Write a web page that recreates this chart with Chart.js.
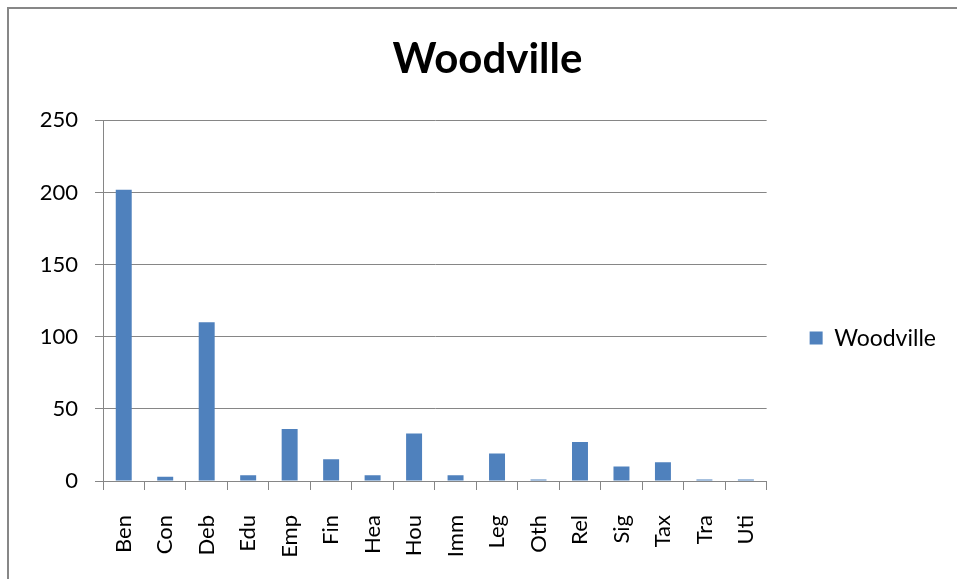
<!DOCTYPE html>
<html>
<head>
<meta charset="utf-8">
<script src="https://cdn.jsdelivr.net/npm/chart.js@4.4.1/dist/chart.umd.min.js"></script>
<style>
  html, body { margin: 0; padding: 0; background: #ffffff; }
  #wrap { position: relative; width: 957px; height: 579px; overflow: hidden; }
  #frame { position: absolute; left: 7px; top: 7px; width: 1000px; height: 700px;
           border-left: 2px solid #878787; border-top: 2px solid #878787; }
  canvas { position: absolute; left: 0; top: 0; }
</style>
</head>
<body>
<div id="wrap">
  <div id="frame"></div>
  <canvas id="c" width="957" height="579"></canvas>
</div>
<script>
const categories = ["Ben","Con","Deb","Edu","Emp","Fin","Hea","Hou","Imm","Leg","Oth","Rel","Sig","Tax","Tra","Uti"];
const seriesName = "Woodville";
const woodvilleValues = [202,3,110,4,36,15,4,33,4,19,1,27,10,13,1,1];
const titleText = "Woodville";
const yMin = 0, yMax = 250, yStep = 50;

const FONT = "Lato, 'Open Sans', sans-serif";

new Chart(document.getElementById('c'), {
  type: 'bar',
  data: {
    labels: categories,
    datasets: [{
      label: seriesName,
      data: woodvilleValues,
      backgroundColor: '#4F81BD',
      borderWidth: 0,
      barPercentage: 0.385,
      categoryPercentage: 1.0
    }]
  },
  options: {
    responsive: false,
    animation: false,
    layout: { padding: { top: 0, left: 29, right: 11, bottom: 0 } },
    plugins: {
      tooltip: { enabled: false },
      title: {
        display: true,
        text: titleText,
        color: '#000000',
        font: { family: FONT, size: 42, weight: 'bold' },
        padding: { top: 34, bottom: 36 }
      },
      legend: {
        display: true,
        position: 'right',
        title: { display: true, text: '', font: { family: FONT, size: 21 }, padding: { top: 72, bottom: 0 } },
        labels: {
          color: '#000000',
          font: { family: FONT, size: 23 },
          boxWidth: 13,
          boxHeight: 13,
          padding: 43
        }
      }
    },
    scales: {
      x: {
        afterFit: (s) => { s.height = 98; },
        grid: { display: true, drawOnChartArea: false, drawTicks: true, tickLength: 9, color: '#868686', offset: true },
        border: { display: true, color: '#868686', width: 1 },
        ticks: {
          color: '#000000',
          font: { family: FONT, size: 22 },
          maxRotation: 90, minRotation: 90,
          autoSkip: false,
          padding: 25
        }
      },
      y: {
        min: yMin, max: yMax,
        afterFit: (s) => { s.width = 74; },
        grid: { display: true, drawOnChartArea: true, drawTicks: true, tickLength: 8, color: '#868686' },
        border: { display: true, color: '#868686', width: 1 },
        ticks: {
          stepSize: yStep,
          color: '#000000',
          font: { family: FONT, size: 22 },
          padding: 17
        }
      }
    }
  }
});
</script>
</body>
</html>
